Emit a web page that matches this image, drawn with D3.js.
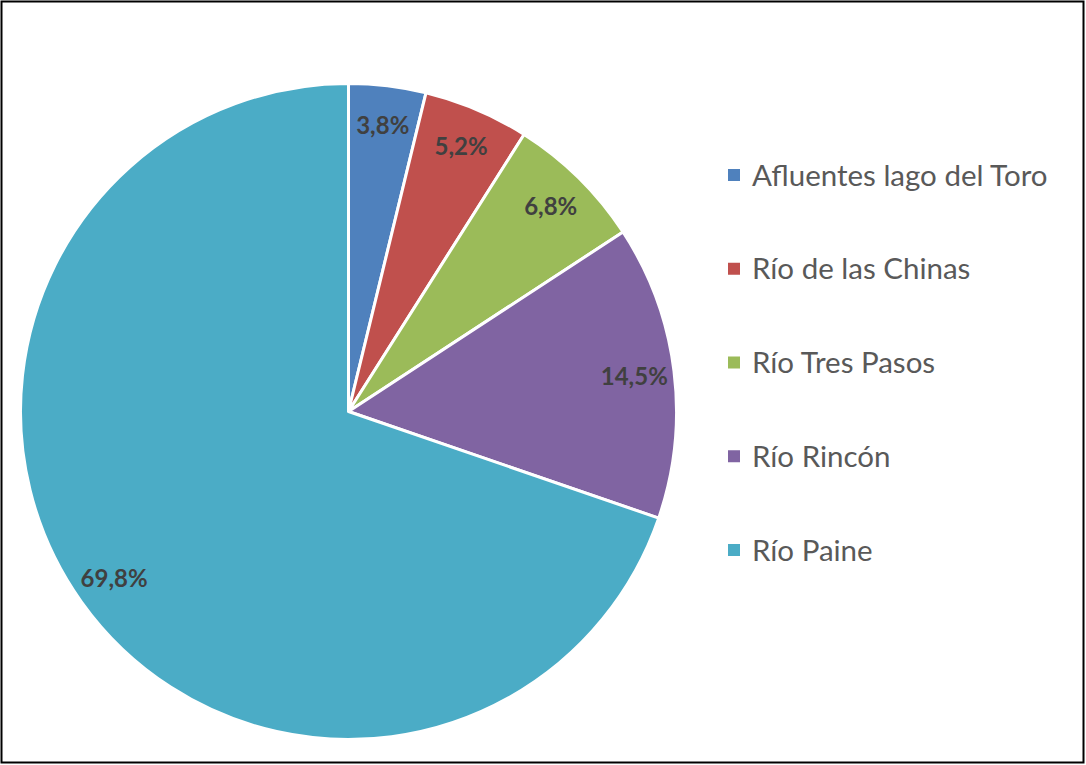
<!DOCTYPE html>
<html>
<head>
<meta charset="utf-8">
<script src="https://cdn.jsdelivr.net/npm/d3@7"></script>
<style>
  body { margin: 0; background: #fff; }
  svg { display: block; }
</style>
</head>
<body>
<div id="svg"></div>
<script>
// data
var categories = ["Afluentes lago del Toro", "Río de las Chinas", "Río Tres Pasos", "Río Rincón", "Río Paine"];
var values = [3.8, 5.2, 6.8, 14.5, 69.8];
var colors = ["#4F81BD", "#C0504D", "#9BBB59", "#8064A2", "#4BACC6"];

var width = 1086, height = 765;
var cx = 348.5, cy = 411.5, radius = 328;

var data = categories.map(function(c, i){ return {name: c, value: values[i]}; });

var svg = d3.select('#svg').append('svg')
            .attr('width', width)
            .attr('height', height);

// frame
svg.append('rect')
  .attr('x', 1.5).attr('y', 1.5)
  .attr('width', width - 4).attr('height', height - 4)
  .attr('fill', '#fff')
  .attr('stroke', '#000')
  .attr('stroke-width', 2);

var color = d3.scaleOrdinal().domain(categories).range(colors);

var pie = d3.pie()
      .sort(null)
      .value(function(d){ return d.value; });

var arc = d3.arc().innerRadius(0).outerRadius(radius);
var labelArc = d3.arc().innerRadius(288).outerRadius(288);

var chartGroup = svg.append('g')
      .attr('transform', 'translate(' + cx + ',' + cy + ')');

var arcs = pie(data);

chartGroup.selectAll('.slice')
  .data(arcs)
  .enter().append('path')
  .attr('class', 'slice')
  .attr('d', arc)
  .attr('fill', function(d){ return color(d.data.name); })
  .attr('stroke', '#fff')
  .attr('stroke-width', 3)
  .attr('stroke-linejoin', 'round');

var fmt = function(v){ return v.toFixed(1).replace('.', ',') + '%'; };

chartGroup.selectAll('.lbl')
  .data(arcs)
  .enter().append('text')
  .attr('class', 'lbl')
  .attr('transform', function(d){ return 'translate(' + labelArc.centroid(d) + ')'; })
  .attr('text-anchor', 'middle')
  .attr('dy', '0.36em')
  .style('font-family', 'Lato, "Open Sans", sans-serif')
  .style('font-weight', 'bold')
  .style('font-size', '24px')
  .style('fill', '#404040')
  .text(function(d){ return fmt(d.data.value); });

// legend
var ly = d3.scalePoint().domain(categories).range([175, 550]);

var legend = svg.selectAll('.legend')
  .data(categories)
  .enter().append('g')
  .attr('class', 'legend')
  .attr('transform', function(d){ return 'translate(728,' + ly(d) + ')'; });

legend.append('rect')
  .attr('x', 0).attr('y', -6)
  .attr('width', 12).attr('height', 12)
  .attr('fill', function(d){ return color(d); });

legend.append('text')
  .attr('x', 24)
  .attr('dy', '0.36em')
  .style('font-family', 'Lato, "Open Sans", sans-serif')
  .style('font-size', '29.5px')
  .style('fill', '#595959')
  .text(function(d){ return d; });
</script>
</body>
</html>
